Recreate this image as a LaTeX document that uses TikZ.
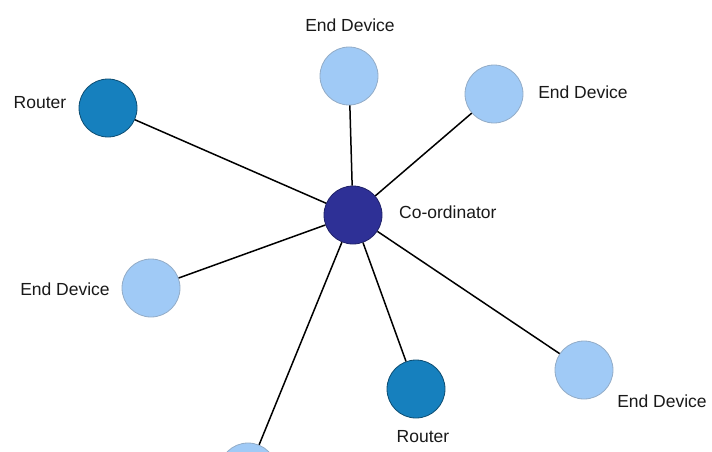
\documentclass[tikz,border=0pt]{standalone}
\usepackage{fontspec}
\setmainfont{Liberation Sans}
\usepackage{tikz}
\usetikzlibrary{positioning}
\definecolor{coordblue}{RGB}{46, 48, 150}
\definecolor{routerblue}{RGB}{22, 128, 190}
\definecolor{deviceblue}{RGB}{160, 202, 246}

\begin{document}
\begin{tikzpicture}[
    x=1pt, y=-1pt,
    hub/.style={circle, draw=coordblue!70!black, line width=0.8pt, fill=coordblue, minimum size=58pt, inner sep=0pt},
    router/.style={circle, draw=routerblue!60!black, line width=0.8pt, fill=routerblue, minimum size=58pt, inner sep=0pt},
    enddev/.style={circle, draw=deviceblue!60!gray, line width=0.8pt, fill=deviceblue, minimum size=58pt, inner sep=0pt},
    link/.style={line width=1.5pt, black},
    tag/.style={font=\fontsize{17.5}{20}\selectfont, inner sep=0pt, text=black!90}
]
\useasboundingbox (0,0) rectangle (712,452);
\clip (0,0) rectangle (712,452);

\node[hub] (coord) at (353,215) {};
\node[enddev] (edtop) at (349,76) {};
\node[enddev] (edright) at (494,94) {};
\node[router] (rleft) at (108,108) {};
\node[enddev] (edleft) at (151,288) {};
\node[router] (rbottom) at (416,389) {};
\node[enddev] (edlow) at (584,370) {};
\node[enddev] (edbottom) at (248,472) {};

\node[tag, anchor=west] (tcoord) at (399,212) {Co-ordinator};
\node[tag] (tedtop) at (350,25) {End Device};
\node[tag] (tedright) at (583,92) {End Device};
\node[tag] (trleft) at (40,103) {Router};
\node[tag] (tedleft) at (65,289) {End Device};
\node[tag] (trbottom) at (423,437) {Router};
\node[tag] (tedlow) at (662,401) {End Device};

\draw[link] (coord) -- (edtop);
\draw[link] (coord) -- (edright);
\draw[link] (coord) -- (rleft);
\draw[link] (coord) -- (edleft);
\draw[link] (coord) -- (rbottom);
\draw[link] (coord) -- (edlow);
\draw[link] (coord) -- (edbottom);

\end{tikzpicture}
\end{document}
